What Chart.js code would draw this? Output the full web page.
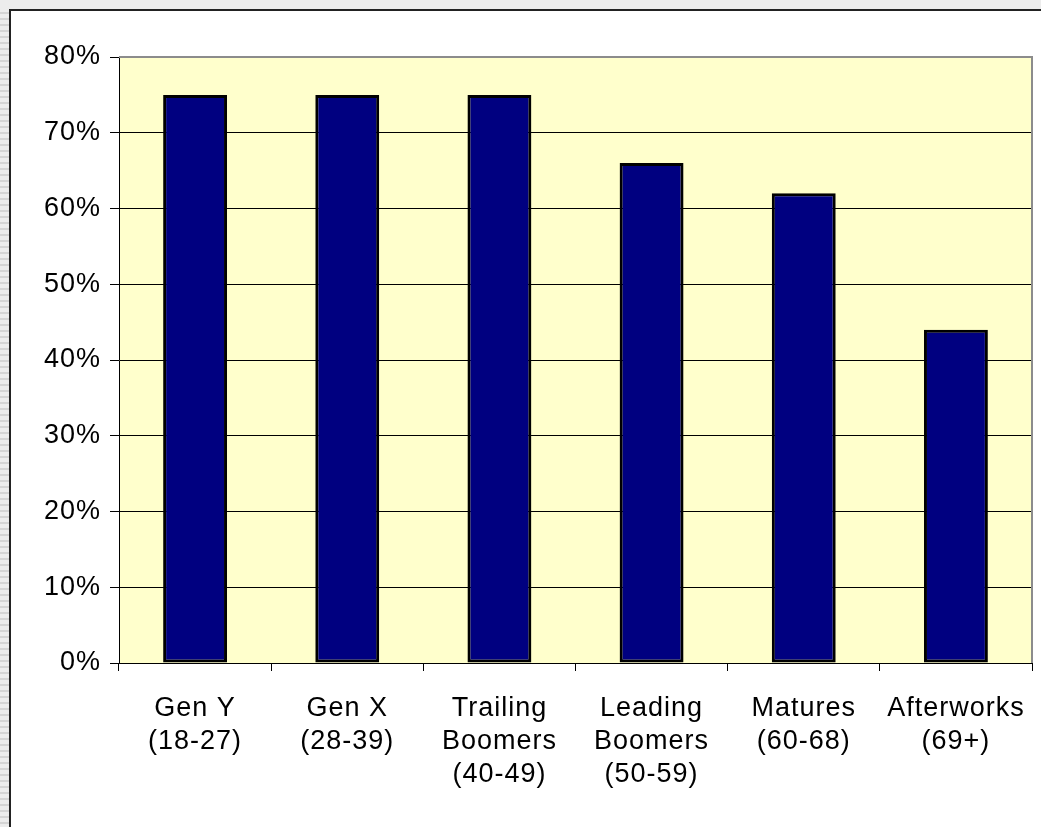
<!DOCTYPE html>
<html>
<head>
<meta charset="utf-8">
<script src="https://cdn.jsdelivr.net/npm/chart.js@4/dist/chart.umd.min.js"></script>
<style>
  body { margin: 0; background: white; }
  canvas { display: block; }
</style>
</head>
<body>
<canvas id="myChart" width="1041" height="827"></canvas>
<script>
// generations and share of each one
const categories = [
    ['Gen Y', '(18-27)'],
    ['Gen X', '(28-39)'],
    ['Trailing', 'Boomers', '(40-49)'],
    ['Leading', 'Boomers', '(50-59)'],
    ['Matures', '(60-68)'],
    ['Afterworks', '(69+)']
];
const values = [75, 75, 75, 66, 62, 44];
const yTicks = [0, 10, 20, 30, 40, 50, 60, 70, 80];

const spacing = '1px';
const fontFamily = '"Liberation Sans", Arial';

// page frame + yellow plot area
const framePlugin = {
    id: 'frame',
    beforeLayout(chart) {
        chart.ctx.letterSpacing = spacing;
    },
    beforeDraw(chart) {
        const ctx = chart.ctx;
        const a = chart.chartArea;
        ctx.save();
        ctx.fillStyle = 'white';
        ctx.fillRect(0, 0, chart.width, chart.height);
        // grey strips left and top
        ctx.fillStyle = '#ececec';
        ctx.fillRect(0, 0, chart.width, 9);
        ctx.fillRect(0, 0, 10, chart.height);
        ctx.fillStyle = '#d4d4d4';
        for (let y = 12; y < chart.height; y += 6) {
            ctx.fillRect(0, y, 9, 2);
        }
        ctx.strokeStyle = '#222';
        ctx.lineWidth = 2;
        ctx.beginPath();
        ctx.moveTo(10, chart.height);
        ctx.lineTo(10, 10);
        ctx.lineTo(chart.width, 10);
        ctx.stroke();
        ctx.fillStyle = '#FFFFCC';
        ctx.fillRect(a.left, a.top, a.right - a.left, a.bottom - a.top);
        ctx.restore();
        ctx.letterSpacing = spacing;
    },
    afterDraw(chart) {
        const ctx = chart.ctx;
        const a = chart.chartArea;
        ctx.save();
        ctx.strokeStyle = '#8c8c8c';
        ctx.lineWidth = 2;
        ctx.beginPath();
        ctx.moveTo(a.left, a.top);
        ctx.lineTo(a.right, a.top);
        ctx.lineTo(a.right, a.bottom);
        ctx.stroke();
        ctx.restore();
    }
};

let canvasChart = document.getElementById('myChart').getContext('2d');

const data = {
    labels: categories,
    datasets: [{
        data: values,
        backgroundColor: '#000080',
        borderColor: '#000000',
        borderWidth: 3,
        borderSkipped: false,
        categoryPercentage: 1,
        barPercentage: 0.42
    }]
};

const config = {
    type: 'bar',
    data: data,
    options: {
        responsive: false,
        animation: false,
        layout: {
            padding: { top: 57, right: 9, left: 0, bottom: 0 }
        },
        plugins: {
            legend: { display: false },
            tooltip: { enabled: false }
        },
        scales: {
            x: {
                afterFit(scale) {
                    scale.height = 164;
                    scale.paddingLeft = 0;
                    scale.paddingRight = 0;
                },
                grid: {
                    drawOnChartArea: false,
                    color: '#000',
                    tickLength: 8
                },
                border: { color: '#000', width: 1 },
                ticks: {
                    color: '#000',
                    maxRotation: 0,
                    autoSkip: false,
                    padding: 21,
                    font: { family: fontFamily, size: 27, lineHeight: 1.22 }
                }
            },
            y: {
                min: 0,
                max: 80,
                afterFit(scale) {
                    scale.width = 119;
                    scale.paddingTop = 0;
                    scale.paddingBottom = 0;
                },
                afterBuildTicks(scale) {
                    scale.ticks = yTicks.map(v => ({ value: v }));
                },
                grid: {
                    color: ctx => ctx.tick && ctx.tick.value === 80 ? '#8c8c8c' : '#000',
                    tickColor: '#000',
                    tickLength: 9
                },
                border: { color: '#000', width: 1 },
                ticks: {
                    color: '#000',
                    padding: 9,
                    callback: v => v + '%',
                    font: { family: fontFamily, size: 27 }
                }
            }
        }
    },
    plugins: [framePlugin]
};

let myChart = new Chart(canvasChart, config);
</script>
</body>
</html>
